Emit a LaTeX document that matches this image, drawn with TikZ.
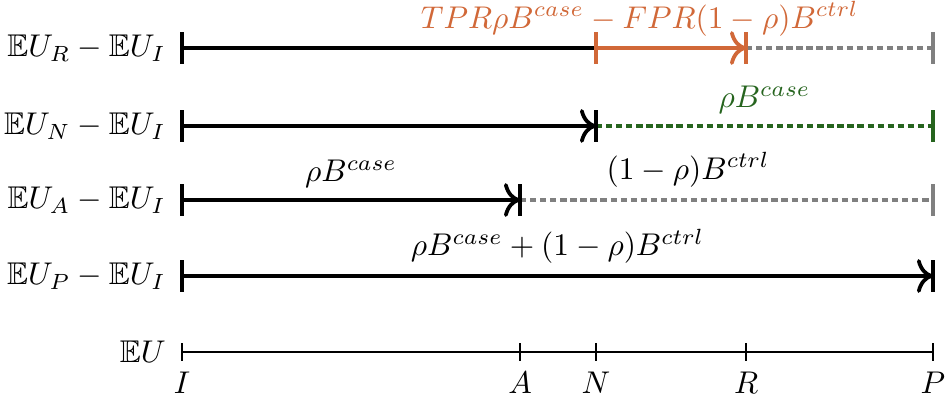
\documentclass[tikz,border=0pt]{standalone}
\usepackage{amssymb}
\usetikzlibrary{arrows.meta}
\definecolor{tprorange}{RGB}{209,104,56}
\definecolor{casegreen}{RGB}{38,100,30}
\begin{document}
\begin{tikzpicture}[
    gain/.style={very thick,-{To[length=1.8mm]}},
    rest/.style={very thick,dash pattern=on 2pt off 1.2pt},
    endbar/.style={very thick},
    rowlab/.style={left,inner sep=5pt},
  ]
  \useasboundingbox (-2.036,-0.559) rectangle (8.579,3.937);

  % positions on the EU axis
  \foreach \p/\x in {I/0,A/3.781,N/4.631,R/6.309,P/8.4}
    \coordinate (ax\p) at (\x,0);

  % same positions, one row per strategy
  \foreach \r/\y in {R/3.4,N/2.528,A/1.7,P/0.85}
    \foreach \p/\x in {I/0,A/3.781,N/4.631,R/6.309,P/8.4}
      \coordinate (\r\p) at (\x,\y);

  % row labels
  \node[rowlab] (labR) at (RI) {$\mathbb{E}U_R-\mathbb{E}U_I$};
  \node[rowlab] (labN) at (NI) {$\mathbb{E}U_N-\mathbb{E}U_I$};
  \node[rowlab] (labA) at (AI) {$\mathbb{E}U_A-\mathbb{E}U_I$};
  \node[rowlab] (labP) at (PI) {$\mathbb{E}U_P-\mathbb{E}U_I$};
  \node[rowlab] (labEU) at (axI) {$\mathbb{E}U$};

  % R row
  \draw[very thick] (RI) -- (RN);
  \draw[gain,tprorange] (RN) -- (RR);
  \draw[rest,gray] (RR) -- (RP);
  \node[tprorange] (gainR) at (5.12,3.725)
    {$TPR\rho B^{case}-FPR(1-\rho)B^{ctrl}$};

  % N row
  \draw[gain] (NI) -- (NN);
  \draw[rest,casegreen] (NN) -- node[above] (gainN) {$\rho B^{case}$} (NP);

  % A row
  \draw[gain] (AI) -- node[above] (gainA) {$\rho B^{case}$} (AA);
  \draw[rest,gray] (AA) -- (AP);
  \node (restA) at (5.66,2.036) {$(1-\rho)B^{ctrl}$};

  % P row
  \draw[gain] (PI) -- node[above] (gainP)
    {$\rho B^{case}+(1-\rho)B^{ctrl}$} (PP);

  % end bars
  \foreach \c/\col in {RI/black,RN/tprorange,RR/tprorange,RP/gray,
                       NI/black,NN/black,NP/casegreen,
                       AI/black,AA/black,AP/gray,
                       PI/black,PP/black}
    \draw[endbar,\col] (\c) ++(0,0.175) -- ++(0,-0.35);

  % EU axis
  \draw[thick] (axI) -- (axP);
  \foreach \p in {I,A,N,R,P}
    \draw (ax\p) ++(0,0.1) -- ++(0,-0.2) node[below] (tk\p) {$\p$};
\end{tikzpicture}
\end{document}
